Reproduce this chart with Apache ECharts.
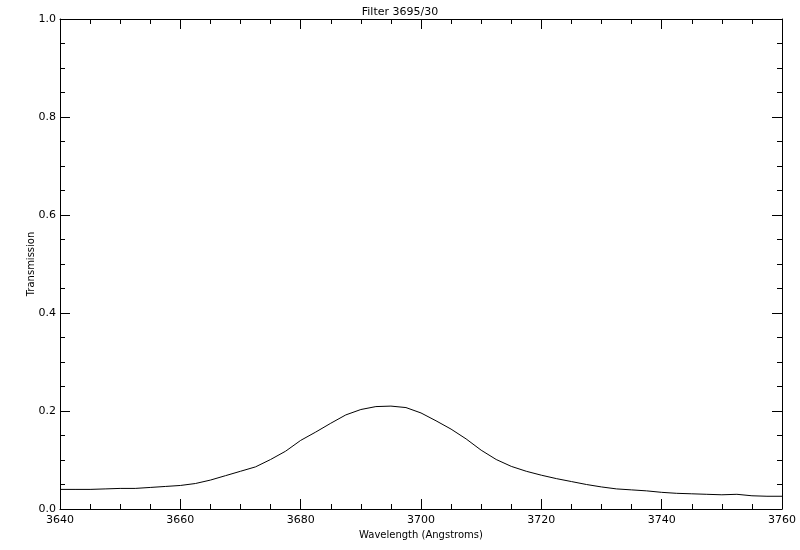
<!DOCTYPE html>
<html>
<head>
<meta charset="utf-8">
<script src="https://cdn.jsdelivr.net/npm/echarts@6/dist/echarts.min.js"></script>
<style>html,body{margin:0;padding:0;background:#fff}#c{width:800px;height:550px}</style>
</head>
<body>
<div id="c"></div>
<script>
const title = 'Filter 3695/30';
const xName = 'Wavelength (Angstroms)';
const yName = 'Transmission';
const wavelength = [3640,3642.5,3645,3647.5,3650,3652.5,3655,3657.5,3660,3662.5,3665,3667.5,3670,3672.5,3675,3677.5,3680,3682.5,3685,3687.5,3690,3692.5,3695,3697.5,3700,3702.5,3705,3707.5,3710,3712.5,3715,3717.5,3720,3722.5,3725,3727.5,3730,3732.5,3735,3737.5,3740,3742.5,3745,3747.5,3750,3752.5,3755,3757.5,3760];
const transmission = [0.040,0.040,0.040,0.041,0.042,0.042,0.044,0.046,0.048,0.052,0.059,0.068,0.077,0.086,0.101,0.118,0.140,0.157,0.175,0.192,0.203,0.209,0.210,0.207,0.196,0.180,0.163,0.143,0.120,0.101,0.087,0.077,0.069,0.062,0.056,0.050,0.045,0.041,0.039,0.037,0.034,0.032,0.031,0.030,0.029,0.030,0.027,0.026,0.026];

const font = 'DejaVu Sans';
const axisCommon = {
  axisLine: {show: true, onZero: false, lineStyle: {color: '#000', width: 1}},
  axisTick: {show: true, inside: true, length: 10, lineStyle: {color: '#000', width: 1}},
  minorTick: {show: true, splitNumber: 4, length: 5, lineStyle: {color: '#000', width: 1}},
  splitLine: {show: false},
  minorSplitLine: {show: false}
};
const chart = echarts.init(document.getElementById('c'), null, {renderer: 'canvas'});
chart.setOption({
  animation: false,
  backgroundColor: '#fff',
  title: {text: title, left: 'center', top: 2, textStyle: {fontFamily: font, fontSize: 11, fontWeight: 'normal', color: '#000'}},
  grid: {left: 60, right: 18, top: 19, bottom: 41, containLabel: false},
  xAxis: [
    Object.assign({type: 'value', min: 3640, max: 3760, interval: 20, position: 'bottom',
      name: xName, nameLocation: 'middle', nameGap: 21, nameMoveOverlap: false,
      nameTextStyle: {fontFamily: font, fontSize: 10, color: '#000'},
      axisLabel: {fontFamily: font, fontSize: 11, color: '#000', margin: 6, formatter: v => String(Math.round(v))}}, axisCommon),
    Object.assign({type: 'value', min: 3640, max: 3760, interval: 20, position: 'top',
      axisLabel: {show: false}}, axisCommon)
  ],
  yAxis: [
    Object.assign({type: 'value', min: 0, max: 1, interval: 0.2, position: 'left',
      name: yName, nameLocation: 'middle', nameGap: 24, nameRotate: 90, nameMoveOverlap: false,
      nameTextStyle: {fontFamily: font, fontSize: 10, color: '#000'},
      axisLabel: {fontFamily: font, fontSize: 11, color: '#000', margin: 4, formatter: v => v.toFixed(1)}}, axisCommon),
    Object.assign({type: 'value', min: 0, max: 1, interval: 0.2, position: 'right',
      axisLabel: {show: false}}, axisCommon)
  ],
  series: [{
    type: 'line',
    data: wavelength.map((w, i) => [w, transmission[i]]),
    showSymbol: false,
    symbol: 'none',
    lineStyle: {color: '#000', width: 1},
    smooth: false
  }]
});
</script>
</body>
</html>
